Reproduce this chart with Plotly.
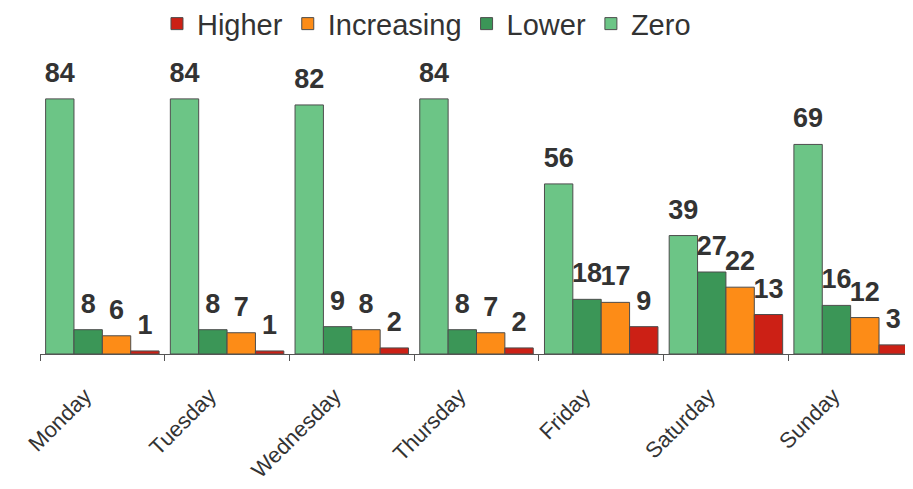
import plotly.graph_objects as go

days = ["Monday", "Tuesday", "Wednesday", "Thursday", "Friday", "Saturday", "Sunday"]
zero = [84, 84, 82, 84, 56, 39, 69]
lower = [8, 8, 9, 8, 18, 27, 16]
increasing = [6, 7, 8, 7, 17, 22, 12]
higher = [1, 1, 2, 2, 9, 13, 3]

series = [
    ("Zero", zero, "#6cc586"),
    ("Lower", lower, "#3b9657"),
    ("Increasing", increasing, "#fd8c17"),
    ("Higher", higher, "#cc2015"),
]

FONT = "Liberation Sans, Arial, sans-serif"
label_tpl = ("<span style='font-size:27px'><b>%{y}</b></span><br>"
             "<span style='font-size:4px;color:#ffffff'>.</span>")

fig = go.Figure()
for name, vals, color in series:
    fig.add_trace(go.Bar(
        name=name, x=days, y=vals,
        marker=dict(color=color, line=dict(color="#4d4d4d", width=1)),
        texttemplate=label_tpl,
        textposition="outside",
        textfont=dict(family=FONT, size=10, color="#333333"),
        constraintext="none",
        cliponaxis=False,
        hoverinfo="x+y+name",
    ))

fig.update_layout(
    width=905, height=481,
    margin=dict(l=32, r=0, t=52, b=135, autoexpand=False),
    paper_bgcolor="white", plot_bgcolor="white",
    barmode="group", bargap=0.09, bargroupgap=0,
    font=dict(family=FONT, color="#333333"),
    legend=dict(
        orientation="h", traceorder="reversed",
        x=0.134, xanchor="left", y=1.21, yanchor="top",
        font=dict(family=FONT, size=29, color="#333333"),
        bgcolor="rgba(0,0,0,0)",
    ),
    xaxis=dict(
        showline=True, linecolor="#555555", linewidth=1,
        ticks="outside", ticklen=6, tickcolor="#555555", tickson="boundaries",
        tickvals=days, ticktext=[d + "\u00a0" * 4 for d in days],
        tickangle=-45, tickfont=dict(family=FONT, size=22, color="#333333"),
        ticklabelstandoff=2,
        showgrid=False,
    ),
    yaxis=dict(visible=False, range=[0, 96.8], showgrid=False, zeroline=False),
)

fig.write_html("out.html")
